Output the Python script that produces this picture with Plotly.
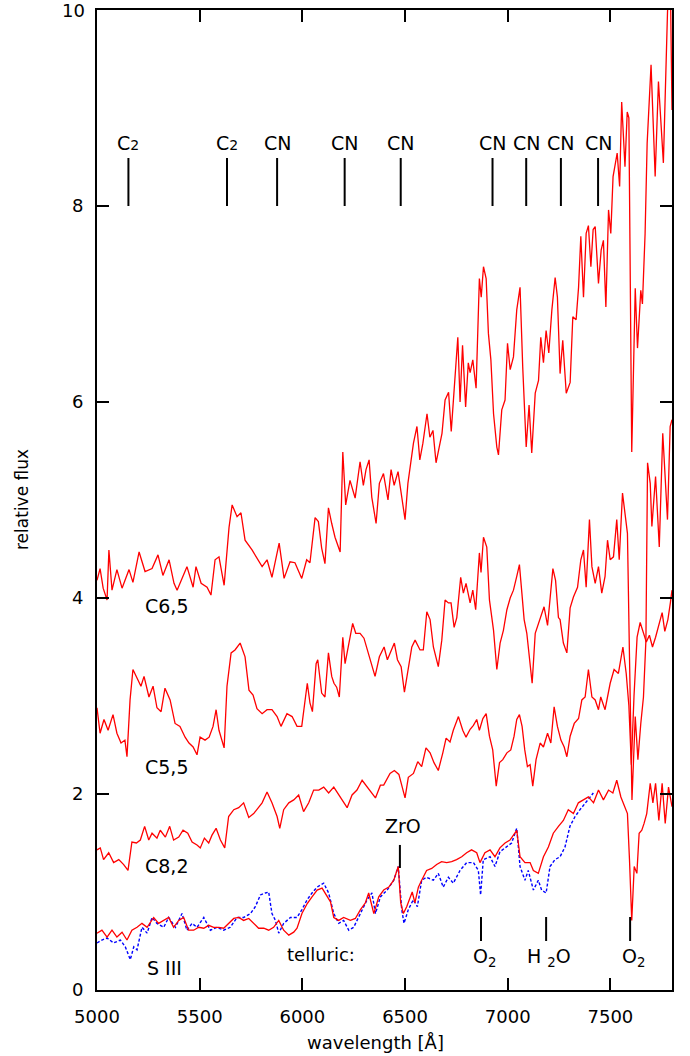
import plotly.graph_objects as go

# ---------------- data ----------------
c65_wl = [5000, 5015, 5030, 5049, 5058, 5073, 5097, 5122, 5156, 5175, 5205, 5234, 5268, 5297, 5321, 5351, 5375, 5390,
          5438, 5468, 5482, 5507, 5536, 5555, 5575, 5594, 5619, 5643, 5658, 5682, 5701, 5721, 5755, 5779, 5804, 5828,
          5852, 5887, 5911, 5940, 5964, 5997, 6021, 6037, 6062, 6078, 6094, 6110, 6127, 6143, 6159, 6184, 6197, 6211,
          6232, 6257, 6281, 6297, 6310, 6325, 6338, 6359, 6375, 6395, 6417, 6432, 6447, 6466, 6485, 6500, 6514, 6534,
          6541, 6558, 6572, 6587, 6607, 6621, 6636, 6651, 6666, 6680, 6695, 6712, 6725, 6745, 6757, 6768, 6780, 6795,
          6808, 6817, 6830, 6846, 6862, 6871, 6882, 6895, 6906, 6918, 6931, 6947, 6955, 6971, 6987, 6999, 7012, 7028,
          7044, 7060, 7073, 7090, 7104, 7117, 7134, 7150, 7161, 7174, 7187, 7200, 7215, 7231, 7242, 7255, 7268, 7285,
          7304, 7317, 7333, 7345, 7356, 7369, 7382, 7393, 7405, 7416, 7426, 7442, 7455, 7466, 7478, 7491, 7502, 7513,
          7533, 7545, 7555, 7571, 7582, 7590, 7604, 7621, 7632, 7648, 7656, 7669, 7679, 7698, 7718, 7734, 7758, 7778,
          7790, 7800]
c65_fx = [4.18, 4.30, 4.10, 3.98, 4.49, 4.08, 4.29, 4.10, 4.29, 4.16, 4.47, 4.27, 4.30, 4.44, 4.23, 4.39, 4.15, 4.08,
          4.32, 4.11, 4.32, 4.15, 4.11, 4.03, 4.39, 4.42, 4.13, 4.72, 4.95, 4.83, 4.87, 4.59, 4.49, 4.41, 4.32, 4.39,
          4.21, 4.56, 4.20, 4.37, 4.36, 4.20, 4.39, 4.36, 4.82, 4.78, 4.51, 4.35, 4.92, 4.76, 4.62, 4.47, 5.49, 4.95,
          5.20, 5.02, 5.39, 5.15, 5.31, 5.41, 5.03, 4.76, 5.17, 5.27, 5.00, 5.31, 5.15, 5.29, 5.03, 4.80, 5.17, 5.44,
          5.58, 5.75, 5.41, 5.58, 5.88, 5.64, 5.71, 5.38, 5.54, 5.68, 6.02, 6.10, 5.70, 6.30, 6.66, 6.00, 6.58, 5.95,
          6.40, 6.30, 6.43, 6.14, 7.26, 7.07, 7.38, 7.26, 6.70, 6.43, 5.88, 5.54, 5.46, 5.92, 6.02, 6.60, 6.33, 6.46,
          6.94, 7.17, 6.36, 5.54, 5.97, 5.48, 6.09, 6.22, 6.66, 6.40, 6.73, 6.50, 6.94, 7.27, 7.07, 6.29, 6.63, 6.09,
          6.20, 6.87, 6.84, 7.17, 7.69, 7.07, 7.72, 7.80, 7.38, 7.76, 7.79, 7.21, 7.55, 7.65, 6.97, 7.96, 7.72, 8.30,
          8.54, 8.20, 9.06, 8.40, 8.96, 8.90, 5.49, 7.16, 6.55, 7.14, 7.00, 7.72, 8.64, 9.44, 8.30, 9.27, 8.44, 9.97,
          10.6, 8.98]

c55_wl = [5000, 5015, 5034, 5054, 5078, 5097, 5117, 5136, 5146, 5161, 5175, 5195, 5214, 5229, 5253, 5273, 5292, 5312,
          5331, 5356, 5380, 5404, 5429, 5448, 5468, 5487, 5502, 5526, 5546, 5565, 5580, 5594, 5619, 5633, 5653, 5672,
          5697, 5721, 5740, 5760, 5779, 5804, 5828, 5852, 5877, 5896, 5925, 5950, 5974, 5997, 6013, 6024, 6037, 6049,
          6067, 6075, 6094, 6110, 6127, 6143, 6154, 6167, 6180, 6197, 6208, 6224, 6245, 6260, 6281, 6300, 6322, 6338,
          6354, 6375, 6398, 6414, 6427, 6448, 6463, 6481, 6497, 6516, 6533, 6549, 6573, 6589, 6606, 6622, 6638, 6662,
          6679, 6695, 6711, 6724, 6739, 6752, 6771, 6784, 6797, 6817, 6830, 6844, 6862, 6870, 6882, 6898, 6911, 6922,
          6931, 6947, 6963, 6979, 6996, 7012, 7028, 7044, 7057, 7069, 7080, 7093, 7109, 7119, 7134, 7150, 7166, 7177,
          7194, 7207, 7220, 7233, 7247, 7255, 7271, 7288, 7304, 7320, 7340, 7356, 7369, 7382, 7398, 7410, 7426, 7442,
          7458, 7474, 7486, 7499, 7515, 7531, 7543, 7559, 7572, 7583, 7593, 7605, 7621, 7634, 7648, 7661, 7673, 7681,
          7694, 7702, 7720, 7738, 7755, 7767, 7778, 7791, 7800]
c55_fx = [2.88, 2.62, 2.76, 2.65, 2.81, 2.62, 2.52, 2.55, 2.38, 2.96, 3.27, 3.18, 3.10, 3.20, 2.99, 3.10, 2.88, 2.84,
          3.08, 2.96, 2.72, 2.69, 2.58, 2.52, 2.48, 2.40, 2.58, 2.55, 2.58, 2.69, 2.86, 2.65, 2.47, 3.10, 3.44, 3.47,
          3.54, 3.40, 3.06, 3.01, 2.87, 2.82, 2.86, 2.86, 2.79, 2.69, 2.82, 2.79, 2.69, 2.69, 2.99, 3.13, 2.93, 2.84,
          3.33, 3.37, 3.03, 2.99, 3.44, 3.20, 3.13, 3.09, 2.99, 3.60, 3.33, 3.50, 3.74, 3.64, 3.64, 3.59, 3.44, 3.33,
          3.20, 3.40, 3.50, 3.37, 3.44, 3.54, 3.37, 3.30, 3.04, 3.30, 3.50, 3.57, 3.47, 3.47, 3.86, 3.78, 3.50, 3.30,
          3.57, 3.98, 3.95, 3.95, 3.70, 3.80, 4.21, 4.05, 4.15, 3.95, 4.08, 3.88, 4.46, 4.26, 4.62, 4.52, 3.98, 3.81,
          3.67, 3.27, 3.54, 3.67, 3.88, 4.00, 4.08, 4.22, 4.34, 4.05, 3.78, 3.64, 3.30, 3.13, 3.64, 3.74, 3.84, 3.91,
          3.72, 4.01, 4.30, 4.18, 3.80, 3.78, 3.54, 3.44, 3.90, 4.01, 4.11, 4.39, 4.49, 4.11, 4.80, 4.32, 4.15, 4.32,
          4.05, 4.22, 4.59, 4.39, 4.42, 4.80, 4.39, 5.07, 4.83, 4.66, 3.40, 1.94, 2.79, 2.35, 2.72, 2.99, 3.57, 5.38,
          5.17, 4.73, 5.24, 4.52, 5.68, 5.17, 4.80, 5.75, 5.82]

c82_wl = [5000, 5016, 5032, 5057, 5081, 5106, 5130, 5151, 5170, 5192, 5211, 5232, 5252, 5268, 5292, 5308, 5333, 5354,
          5373, 5398, 5419, 5442, 5463, 5487, 5503, 5523, 5544, 5560, 5580, 5601, 5622, 5641, 5666, 5690, 5714, 5739,
          5763, 5787, 5804, 5828, 5852, 5877, 5890, 5909, 5934, 5958, 5982, 6006, 6031, 6055, 6080, 6104, 6128, 6153,
          6177, 6201, 6218, 6242, 6266, 6291, 6315, 6339, 6356, 6380, 6396, 6427, 6448, 6470, 6485, 6500, 6516, 6541,
          6562, 6581, 6602, 6622, 6641, 6662, 6684, 6700, 6719, 6735, 6760, 6781, 6797, 6817, 6833, 6849, 6862, 6879,
          6895, 6911, 6927, 6944, 6960, 6976, 6996, 7015, 7031, 7044, 7057, 7070, 7083, 7096, 7109, 7122, 7138, 7158,
          7174, 7194, 7210, 7226, 7242, 7259, 7275, 7288, 7304, 7324, 7345, 7361, 7377, 7393, 7410, 7426, 7442, 7453,
          7474, 7499, 7518, 7539, 7561, 7577, 7590, 7602, 7615, 7630, 7645, 7660, 7675, 7690, 7705, 7720, 7738, 7752,
          7765, 7780, 7792, 7800]
c82_fx = [1.43, 1.45, 1.33, 1.40, 1.30, 1.33, 1.28, 1.22, 1.51, 1.50, 1.53, 1.67, 1.53, 1.60, 1.55, 1.63, 1.56, 1.67,
          1.53, 1.56, 1.63, 1.60, 1.51, 1.48, 1.45, 1.55, 1.50, 1.58, 1.65, 1.53, 1.45, 1.77, 1.84, 1.86, 1.91, 1.76,
          1.80, 1.86, 1.91, 2.02, 1.91, 1.77, 1.65, 1.84, 1.91, 1.94, 1.99, 1.82, 1.91, 2.04, 2.04, 2.07, 2.01, 2.07,
          1.99, 1.91, 1.86, 1.99, 2.04, 2.14, 2.07, 2.01, 1.96, 2.09, 2.09, 2.21, 2.24, 2.20, 2.08, 1.96, 2.17, 2.21,
          2.33, 2.28, 2.47, 2.42, 2.32, 2.24, 2.42, 2.57, 2.53, 2.65, 2.79, 2.65, 2.58, 2.66, 2.70, 2.76, 2.65, 2.77,
          2.82, 2.59, 2.45, 2.08, 2.32, 2.35, 2.42, 2.45, 2.59, 2.76, 2.81, 2.69, 2.45, 2.28, 2.30, 2.08, 2.35, 2.52,
          2.48, 2.62, 2.52, 2.89, 2.69, 2.55, 2.48, 2.38, 2.59, 2.72, 2.77, 2.96, 2.99, 3.27, 2.99, 2.96, 2.86, 2.99,
          2.86, 3.13, 3.27, 3.23, 3.50, 3.23, 2.90, 2.30, 3.00, 3.60, 3.75, 3.65, 3.55, 3.62, 3.50, 3.60, 3.75, 3.85,
          3.66, 3.78, 3.95, 4.08]

s3_wl = [5000, 5024, 5049, 5073, 5097, 5122, 5146, 5170, 5195, 5219, 5244, 5276, 5300, 5325, 5349, 5373, 5398, 5422,
         5446, 5471, 5495, 5520, 5544, 5568, 5593, 5617, 5641, 5666, 5690, 5714, 5739, 5763, 5787, 5812, 5836, 5860,
         5885, 5909, 5934, 5958, 5974, 5998, 6023, 6047, 6072, 6096, 6120, 6137, 6153, 6177, 6201, 6234, 6258, 6283,
         6307, 6323, 6348, 6372, 6396, 6421, 6445, 6467, 6479, 6492, 6508, 6524, 6535, 6548, 6565, 6581, 6605, 6630,
         6654, 6678, 6703, 6727, 6751, 6776, 6800, 6824, 6849, 6865, 6889, 6914, 6938, 6962, 6987, 7011, 7036, 7044,
         7060, 7084, 7109, 7125, 7149, 7174, 7198, 7222, 7247, 7271, 7295, 7320, 7344, 7368, 7393, 7418, 7442, 7466,
         7491, 7512, 7531, 7551, 7572, 7583, 7593, 7604, 7616, 7629, 7640, 7653, 7664, 7677, 7694, 7707, 7720, 7736,
         7752, 7767, 7783, 7800]
s3_fx = [0.58, 0.61, 0.54, 0.61, 0.54, 0.59, 0.51, 0.61, 0.64, 0.68, 0.64, 0.74, 0.68, 0.71, 0.74, 0.64, 0.71, 0.74,
         0.61, 0.61, 0.64, 0.63, 0.66, 0.64, 0.64, 0.63, 0.68, 0.73, 0.74, 0.71, 0.73, 0.68, 0.63, 0.63, 0.61, 0.64,
         0.71, 0.61, 0.56, 0.59, 0.63, 0.78, 0.88, 0.95, 1.02, 1.04, 0.95, 0.90, 0.74, 0.71, 0.74, 0.71, 0.73, 0.82,
         0.89, 0.99, 0.78, 0.95, 1.02, 1.05, 1.12, 1.26, 0.89, 0.78, 0.85, 0.95, 1.00, 0.89, 1.05, 1.12, 1.22, 1.24,
         1.28, 1.31, 1.30, 1.31, 1.33, 1.36, 1.40, 1.43, 1.40, 1.30, 1.40, 1.43, 1.36, 1.45, 1.50, 1.53, 1.60, 1.63,
         1.36, 1.30, 1.30, 1.22, 1.19, 1.36, 1.46, 1.60, 1.67, 1.73, 1.84, 1.80, 1.91, 1.94, 1.97, 1.91, 2.04, 1.94,
         2.04, 2.01, 2.14, 1.97, 1.87, 1.80, 1.33, 0.71, 1.26, 1.19, 1.60, 1.63, 1.70, 1.80, 2.11, 1.91, 2.11, 1.73,
         2.11, 1.70, 2.07, 1.87]

tell_wl = [5000, 5024, 5049, 5081, 5114, 5138, 5162, 5179, 5195, 5219, 5244, 5268, 5292, 5325, 5349, 5382, 5414, 5438,
           5463, 5487, 5520, 5552, 5584, 5617, 5649, 5682, 5714, 5747, 5771, 5796, 5820, 5836, 5852, 5869, 5885, 5909,
           5942, 5974, 5998, 6023, 6047, 6072, 6104, 6128, 6153, 6177, 6201, 6226, 6250, 6283, 6315, 6339, 6356, 6380,
           6413, 6445, 6467, 6484, 6495, 6516, 6540, 6560, 6581, 6605, 6638, 6662, 6686, 6711, 6735, 6768, 6800, 6833,
           6857, 6868, 6881, 6914, 6938, 6962, 6995, 7019, 7044, 7060, 7084, 7100, 7125, 7149, 7165, 7187, 7206, 7230,
           7255, 7279, 7303, 7328, 7352, 7377, 7401, 7417]
tell_fx = [0.48, 0.51, 0.53, 0.48, 0.51, 0.44, 0.31, 0.44, 0.41, 0.64, 0.58, 0.74, 0.68, 0.64, 0.74, 0.64, 0.78, 0.61,
           0.68, 0.64, 0.74, 0.61, 0.64, 0.61, 0.64, 0.74, 0.74, 0.78, 0.85, 0.97, 0.99, 1.00, 0.78, 0.71, 0.58, 0.68,
           0.74, 0.74, 0.82, 0.92, 0.99, 1.05, 1.09, 0.99, 0.78, 0.68, 0.71, 0.61, 0.64, 0.78, 0.92, 0.99, 0.78, 0.95,
           1.02, 1.12, 1.26, 0.82, 0.68, 0.82, 0.92, 0.85, 1.12, 1.15, 1.12, 1.19, 1.05, 1.15, 1.09, 1.22, 1.30, 1.30,
           1.22, 0.97, 1.33, 1.36, 1.26, 1.41, 1.46, 1.50, 1.65, 1.26, 1.12, 1.22, 1.02, 1.12, 1.02, 0.99, 1.26, 1.33,
           1.36, 1.46, 1.67, 1.77, 1.84, 1.91, 1.97, 2.01]

# band identifications at the top
band_wl = [5153, 5633, 5877, 6206, 6479, 6926, 7090, 7259, 7440]
band_lbl = ["C<span style='font-size:14px'>2</span>", "C<span style='font-size:14px'>2</span>",
            "CN", "CN", "CN", "CN", "CN", "CN", "CN"]
# telluric features at the bottom
tel_wl = [6870, 7187, 7596]
tel_lbl = ["O<sub>2</sub>", "H <sub>2</sub>O", "O<sub>2</sub>"]
# spectrum labels
spec_lbl = ["C6,5", "C5,5", "C8,2", "S III"]
spec_lbl_xy = [(5336, 3.92), (5336, 2.28), (5336, 1.27), (5329, 0.22)]

x_ticks = [5000, 5500, 6000, 6500, 7000, 7500]
y_ticks = [0, 2, 4, 6, 8, 10]

FONT = "DejaVu Sans"

fig = go.Figure()
for wl, fx in [(c65_wl, c65_fx), (c55_wl, c55_fx), (c82_wl, c82_fx)]:
    fig.add_trace(go.Scatter(x=wl, y=fx, mode="lines", line=dict(color="#ff0000", width=1.3),
                             showlegend=False, hoverinfo="skip"))
fig.add_trace(go.Scatter(x=tell_wl, y=tell_fx, mode="lines",
                         line=dict(color="#0000ff", width=1.4, dash="3px,2px"),
                         showlegend=False, hoverinfo="skip"))
fig.add_trace(go.Scatter(x=s3_wl, y=s3_fx, mode="lines", line=dict(color="#ff0000", width=1.3),
                         showlegend=False, hoverinfo="skip"))

shapes = []
annotations = []
for wl, lbl in zip(band_wl, band_lbl):
    shapes.append(dict(type="line", xref="x", yref="y", x0=wl, x1=wl, y0=8.0, y1=8.49,
                       line=dict(color="black", width=2)))
    annotations.append(dict(x=wl, y=8.64, xref="x", yref="y", text=lbl, showarrow=False,
                            xanchor="center", yanchor="middle", font=dict(family=FONT, size=19, color="black")))
for wl, lbl in zip(tel_wl, tel_lbl):
    shapes.append(dict(type="line", xref="x", yref="y", x0=wl, x1=wl, y0=0.50, y1=0.745,
                       line=dict(color="black", width=2)))
    annotations.append(dict(x=wl + 15, y=0.33, xref="x", yref="y", text=lbl, showarrow=False,
                            xanchor="center", yanchor="middle", font=dict(family=FONT, size=19, color="black")))
# ZrO
shapes.append(dict(type="line", xref="x", yref="y", x0=6475, x1=6475, y0=1.245, y1=1.48,
                   line=dict(color="black", width=2)))
annotations.append(dict(x=6490, y=1.67, xref="x", yref="y", text="ZrO", showarrow=False,
                        xanchor="center", yanchor="middle", font=dict(family=FONT, size=19, color="black")))
annotations.append(dict(x=6091, y=0.36, xref="x", yref="y", text="telluric:", showarrow=False,
                        xanchor="center", yanchor="middle", font=dict(family=FONT, size=18, color="black")))
for lbl, (lx, ly) in zip(spec_lbl, spec_lbl_xy):
    annotations.append(dict(x=lx, y=ly, xref="x", yref="y", text=lbl, showarrow=False,
                            xanchor="center", yanchor="middle", font=dict(family=FONT, size=19, color="black")))
# axis titles
annotations.append(dict(x=0.4835, y=0, xref="paper", yref="paper", yshift=-52, text="wavelength [Å]",
                        showarrow=False, xanchor="center", yanchor="middle",
                        font=dict(family=FONT, size=18, color="black")))
annotations.append(dict(x=0, y=0.5, xref="paper", yref="paper", xshift=-75, text="relative flux",
                        textangle=-90, showarrow=False, xanchor="center", yanchor="middle",
                        font=dict(family=FONT, size=17, color="black")))
# top y tick label (would be hidden at the very edge of the page otherwise)
annotations.append(dict(x=0, y=y_ticks[-1], xref="paper", yref="y", xshift=-10, text=str(y_ticks[-1]),
                        showarrow=False, xanchor="right", yanchor="middle",
                        font=dict(family=FONT, size=18, color="black")))

axis_common = dict(showline=True, linecolor="black", linewidth=2, mirror="ticks", ticks="inside",
                   ticklen=12, tickwidth=1.5, tickcolor="black", showgrid=False, zeroline=False,
                   automargin=False, tickfont=dict(family=FONT, size=18, color="black"))
fig.update_layout(
    width=690, height=1056,
    margin=dict(l=97, r=18, t=10, b=66, autoexpand=False),
    paper_bgcolor="white", plot_bgcolor="white",
    xaxis=dict(range=[5000, 7800], tickvals=x_ticks, ticktext=[str(v) for v in x_ticks],
               ticklabelstandoff=9, **axis_common),
    yaxis=dict(range=[0, 10], tickvals=y_ticks, ticktext=[str(v) for v in y_ticks[:-1]] + [""],
               ticklabelstandoff=8, **axis_common),
    shapes=shapes, annotations=annotations,
)
fig.write_html("out.html")
